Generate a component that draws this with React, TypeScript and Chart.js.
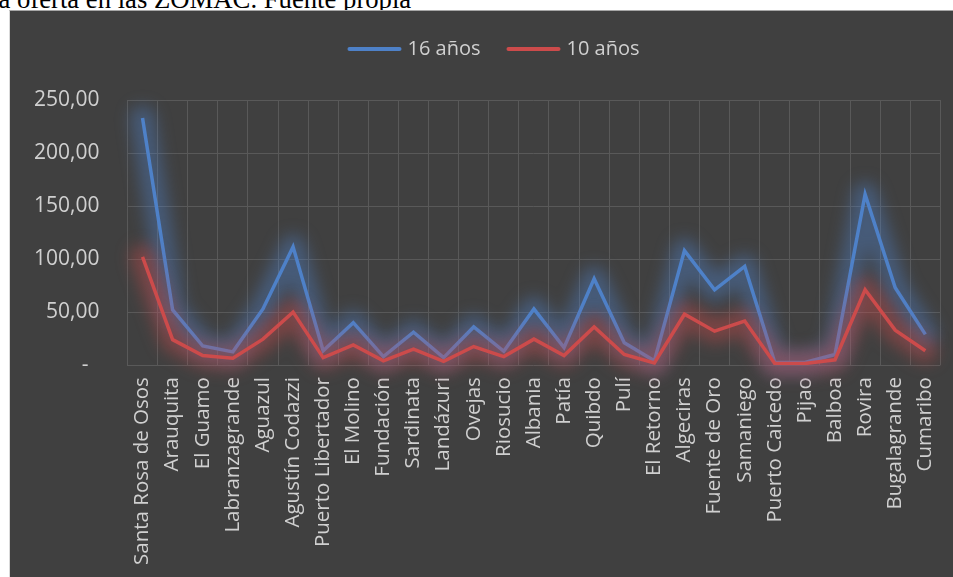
import React, { useEffect, useRef } from "react";
import { Chart, registerables } from "chart.js";

Chart.register(...registerables);

const categories = [
  "Santa Rosa de Osos", "Arauquita", "El Guamo", "Labranzagrande", "Aguazul",
  "Agustín Codazzi", "Puerto Libertador", "El Molino", "Fundación", "Sardinata",
  "Landázuri", "Ovejas", "Riosucio", "Albania", "Patía", "Quibdo", "Pulí",
  "El Retorno", "Algeciras", "Fuente de Oro", "Samaniego", "Puerto Caicedo",
  "Pijao", "Balboa", "Rovira", "Bugalagrande", "Cumaribo",
];

const series16 = [233, 52, 18, 12.5, 53, 111.5, 13.5, 40, 8, 31, 7, 36, 13, 53, 16.5, 81.5, 21, 4, 108, 71, 93, 2.5, 2.5, 10, 161, 73, 29];
const series10 = [102, 24, 9, 6.5, 24.5, 50, 7, 19, 4, 15, 3.5, 17.5, 8, 24.5, 9, 36, 10, 2, 48, 32, 41.5, 1.5, 1.5, 5, 71, 33, 13.5];

const seriesNames = ["16 años", "10 años"];
const yTicks = [0, 50, 100, 150, 200, 250];

const BLUE = "#4e81c8";
const RED = "#cc4b4b";
const TEXT = "#d0d0d0";
const GRID = "#595959";
const FONT = "'Open Sans', 'Noto Sans', sans-serif";

const glowPlugin = {
  id: "glow",
  beforeDatasetDraw(chart: any, args: any) {
    const ctx = chart.ctx;
    const ds = chart.data.datasets[args.index];
    const pts = args.meta.data;
    if (!pts || !pts.length) return;
    ctx.save();
    ctx.filter = "blur(8px)";
    ctx.strokeStyle = ds.glowColor;
    ctx.lineWidth = 24;
    ctx.lineJoin = "round";
    ctx.lineCap = "round";
    ctx.beginPath();
    pts.forEach((p: any, i: number) => {
      if (i === 0) ctx.moveTo(p.x, p.y);
      else ctx.lineTo(p.x, p.y);
    });
    ctx.stroke();
    ctx.restore();
  },
};

const legendPlugin = {
  id: "customLegend",
  afterDraw(chart: any) {
    const ctx = chart.ctx;
    const ds = chart.data.datasets;
    ctx.save();
    ctx.font = `20px ${FONT}`;
    ctx.textBaseline = "middle";
    const lineW = 54;
    const gap = 6;
    const itemGap = 26;
    const widths = ds.map((d: any) => lineW + gap + ctx.measureText(d.label).width);
    const total = widths.reduce((a: number, b: number) => a + b, 0) + itemGap * (ds.length - 1);
    let x = 483.5 - total / 2;
    const y = 38;
    ds.forEach((d: any, i: number) => {
      ctx.strokeStyle = d.borderColor;
      ctx.lineWidth = 4;
      ctx.lineCap = "round";
      ctx.beginPath();
      ctx.moveTo(x + 2, y);
      ctx.lineTo(x + lineW - 2, y);
      ctx.stroke();
      ctx.fillStyle = TEXT;
      ctx.textAlign = "left";
      ctx.fillText(d.label, x + lineW + gap, y);
      x += widths[i] + itemGap;
    });
    ctx.restore();
  },
};

function fmt(v: number) {
  if (v === 0) return "-  ";
  return v.toFixed(2).replace(".", ",");
}

export default function App() {
  const ref = useRef<HTMLCanvasElement>(null);

  useEffect(() => {
    if (!ref.current) return;
    const chart = new Chart(ref.current, {
      type: "line",
      data: {
        labels: categories,
        datasets: [
          {
            label: seriesNames[0],
            data: series16,
            borderColor: BLUE,
            backgroundColor: BLUE,
            borderWidth: 3.5,
            pointRadius: 0,
            tension: 0,
            order: 1,
            glowColor: "rgba(78,129,200,0.42)",
          } as any,
          {
            label: seriesNames[1],
            data: series10,
            borderColor: RED,
            backgroundColor: RED,
            borderWidth: 3.5,
            pointRadius: 0,
            tension: 0,
            order: 0,
            glowColor: "rgba(204,75,75,0.42)",
          } as any,
        ],
      },
      options: {
        animation: false,
        responsive: false,
        maintainAspectRatio: false,
        layout: { padding: { left: -4, right: 4, top: 89, bottom: 0 } },
        plugins: {
          tooltip: { enabled: false },
          legend: { display: false },
        },
        scales: {
          x: {
            offset: true,
            grid: { color: GRID, lineWidth: 1, offset: true, drawTicks: false },
            border: { display: false },
            ticks: {
              color: TEXT,
              font: { family: FONT, size: 20.5 },
              minRotation: 90,
              maxRotation: 90,
              autoSkip: false,
              padding: 12,
            },
          },
          y: {
            min: 0,
            max: 250,
            grid: { color: GRID, lineWidth: 1, drawTicks: false },
            border: { display: false },
            afterBuildTicks: (axis: any) => {
              axis.ticks = yTicks.map((v) => ({ value: v }));
            },
            ticks: {
              color: TEXT,
              font: { family: FONT, size: 21 },
              padding: 28,
              callback: (v: any) => fmt(Number(v)),
            },
          },
        },
      },
      plugins: [glowPlugin, legendPlugin],
    });
    return () => chart.destroy();
  }, []);

  return (
    <div style={{ position: "fixed", left: 0, top: 0, width: 953, height: 577, overflow: "hidden", background: "#fff" }}>
      <div
        style={{
          position: "absolute",
          left: -9,
          top: -16,
          fontFamily: "'Liberation Serif', 'Times New Roman', serif",
          fontSize: 26.7,
          color: "#000",
          whiteSpace: "nowrap",
          lineHeight: "30px",
        }}
      >
        la oferta en las ZOMAC. Fuente propia
      </div>
      <div
        style={{
          position: "absolute",
          left: 9,
          top: 10,
          width: 1000,
          height: 600,
          background: "#404040",
          borderTop: "1px solid #a6a6a6",
          borderLeft: "1px solid #d9d9d9",
        }}
      >
        <canvas ref={ref} width={952} height={566} style={{ display: "block", width: 952, height: 566 }} />
      </div>
    </div>
  );
}
